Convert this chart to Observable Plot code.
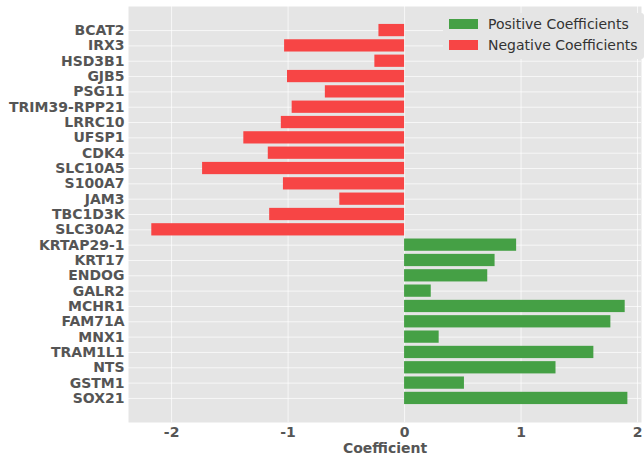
<!DOCTYPE html>
<html><head><meta charset="utf-8">
<script src="https://cdn.jsdelivr.net/npm/d3@7"></script>
<script src="https://cdn.jsdelivr.net/npm/@observablehq/plot@0.6"></script>
<style>
body{margin:0;background:#fff;}
#wrap{position:relative;width:644px;height:458px;font-family:"DejaVu Sans",sans-serif;}
#legend{position:absolute;left:443px;top:13px;width:201px;height:46px;background:#E5E5E5;border-radius:3px;}
.item{position:absolute;left:6px;height:16px;display:flex;align-items:center;font-size:14px;color:#333;}
.sw{width:29px;height:10px;margin-right:10px;}
</style></head>
<body><div id="wrap"><div id="chart"></div>
<div id="legend"></div></div>
<script>
const genes = ["BCAT2","IRX3","HSD3B1","GJB5","PSG11","TRIM39-RPP21","LRRC10","UFSP1","CDK4","SLC10A5","S100A7","JAM3","TBC1D3K","SLC30A2",
  "KRTAP29-1","KRT17","ENDOG","GALR2","MCHR1","FAM71A","MNX1","TRAM1L1","NTS","GSTM1","SOX21"];
const coefs = [-0.22,-1.03,-0.255,-1.005,-0.68,-0.965,-1.058,-1.38,-1.17,-1.734,-1.04,-0.556,-1.158,-2.17,
  0.962,0.777,0.714,0.229,1.894,1.771,0.297,1.625,1.30,0.514,1.917];
const xTicks = [-2,-1,0,1,2];
const legendLabels = ["Positive Coefficients","Negative Coefficients"];
const posColor = "#45A045", negColor = "#F74545";

const data = genes.map((g,i)=>({gene:g, coef:coefs[i], color: coefs[i] > 0 ? posColor : negColor}));

const chart = Plot.plot({
  width:644, height:458, marginLeft:128, marginRight:3, marginTop:6, marginBottom:36,
  style:{background:"transparent", fontFamily:"DejaVu Sans", fontSize:"14px", fontWeight:"bold", color:"#555"},
  x:{domain:[-2.37,2.034]},
  y:{domain:genes, paddingInner:0.2, paddingOuter:1.17, round:false},
  color:{type:"identity"},
  marks:[
    Plot.frame({fill:"#E5E5E5", stroke:null}),
    Plot.gridX(xTicks,{stroke:"white", strokeOpacity:0.7}),
    Plot.gridY({stroke:"white", strokeOpacity:0.7}),
    Plot.barX(data,{x:"coef", y:"gene", fill:"color"}),
    Plot.axisX(xTicks,{tickSize:0, tickPadding:5, tickFormat:d=>String(d), label:"Coefficient", labelAnchor:"center", labelArrow:"none", labelOffset:30, fill:"#555"}),
    Plot.axisY({tickSize:0, tickPadding:4, label:null, fill:"#555"})
  ]
});
document.getElementById("chart").appendChild(chart);

const leg = document.getElementById("legend");
[posColor, negColor].forEach((c,i)=>{
  const it = document.createElement("div");
  it.className="item"; it.style.top = (i*21+3)+"px";
  it.innerHTML = `<span class="sw" style="background:${c}"></span><span>${legendLabels[i]}</span>`;
  leg.appendChild(it);
});
</script></body></html>
